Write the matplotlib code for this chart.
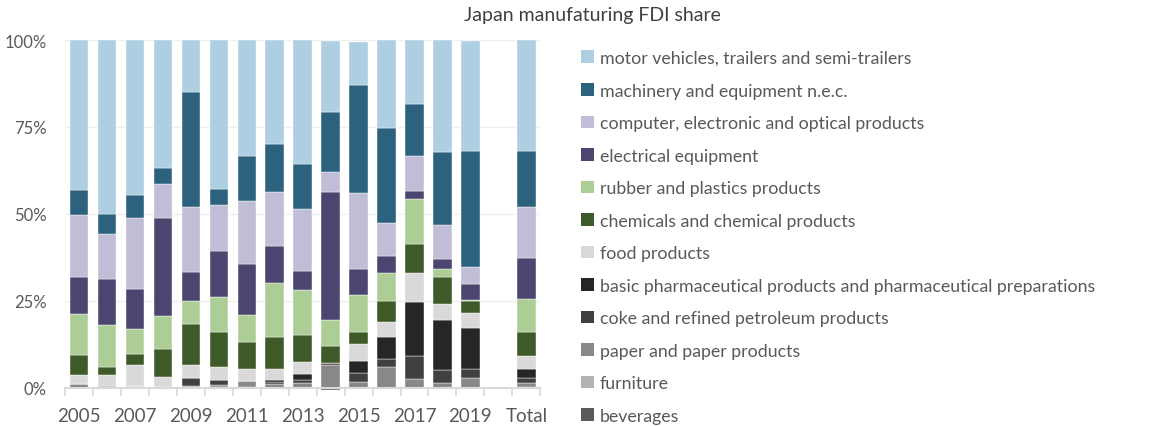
import matplotlib
matplotlib.use("Agg")
import matplotlib.pyplot as plt
from matplotlib.patches import Patch
import numpy as np

plt.rcParams['font.family'] = ['Lato', 'DejaVu Sans']

categories = ["2005", "2006", "2007", "2008", "2009", "2010", "2011", "2012", "2013",
              "2014", "2015", "2016", "2017", "2018", "2019", "", "Total"]
tick_labels = ["2005", "", "2007", "", "2009", "", "2011", "", "2013",
               "", "2015", "", "2017", "", "2019", "", "Total"]

# shares in %, bottom to top (blank slot before Total)
beverages   = [0.0, 0.0, 0.0, 0.0, 0.3, 0.3, 0.4, 0.0, 0.0, -0.5, -0.4, 0.0, 0.0, 0.0, 0.0, 0, 0.3]
furniture   = [0.0, 0.0, 0.5, 0.4, 0.0, 0.0, 0.0, 0.0, 0.0, 0.0, 0.0, 0.0, 0.0, 0.0, 0.0, 0, 0.0]
paper       = [1.1, 0.7, 0.0, 0.0, 0.3, 0.5, 1.7, 1.1, 1.3, 6.7, 1.7, 6.0, 2.6, 1.3, 2.8, 0, 1.1]
coke        = [0.0, 0.0, 0.0, 0.0, 2.2, 1.5, 0.0, 0.5, 1.0, 0.4, 2.6, 2.2, 6.5, 4.0, 2.6, 0, 1.4]
pharma      = [0.0, 0.0, 0.0, 0.0, 0.0, 0.0, 0.0, 0.7, 1.6, 0.0, 3.4, 6.4, 15.7, 14.2, 11.8, 0, 2.6]
food        = [2.7, 3.0, 6.2, 2.7, 3.7, 3.6, 3.5, 3.1, 3.5, 0.0, 4.9, 4.3, 8.2, 4.6, 4.4, 0, 3.9]
chemicals   = [5.8, 2.2, 3.1, 8.0, 11.9, 10.3, 7.5, 9.2, 7.8, 5.0, 3.4, 6.0, 8.4, 7.7, 3.4, 0, 6.9]
rubber      = [11.6, 12.2, 7.1, 9.6, 6.7, 9.9, 8.0, 15.7, 12.9, 7.5, 10.8, 8.1, 12.8, 2.3, 0.2, 0, 9.3]
electrical  = [10.8, 13.2, 11.5, 28.2, 8.2, 13.2, 14.6, 10.5, 5.5, 36.7, 7.4, 5.0, 2.3, 2.9, 4.7, 0, 11.8]
computer    = [17.8, 13.0, 20.4, 9.7, 18.7, 13.2, 17.9, 15.4, 17.7, 5.8, 21.7, 9.3, 10.2, 9.8, 4.8, 0, 14.6]
machinery   = [7.1, 5.7, 6.8, 4.7, 33.1, 4.7, 13.2, 13.9, 13.0, 17.2, 31.2, 27.4, 15.0, 20.9, 33.5, 0, 16.2]
motor       = [43.1, 50.0, 44.4, 36.7, 14.9, 42.8, 33.2, 29.9, 35.7, 20.3, 12.3, 25.3, 18.3, 32.3, 31.4, 0, 31.9]

series = [
    ("beverages", beverages, "#5a5a5a"),
    ("furniture", furniture, "#b3b3b3"),
    ("paper and paper products", paper, "#888888"),
    ("coke and refined petroleum products", coke, "#404040"),
    ("basic pharmaceutical products and pharmaceutical preparations", pharma, "#262626"),
    ("food products", food, "#d9d9d9"),
    ("chemicals and chemical products", chemicals, "#3d5a28"),
    ("rubber and plastics products", rubber, "#acce96"),
    ("electrical equipment", electrical, "#4a466f"),
    ("computer, electronic and optical products", computer, "#c0bdd6"),
    ("machinery and equipment n.e.c.", machinery, "#2c627d"),
    ("motor vehicles, trailers and semi-trailers", motor, "#aecfe1"),
]

W, H = 1159, 427
fig = plt.figure(figsize=(W / 100, H / 100), dpi=100)
ax = fig.add_axes([65 / W, 38 / H, 475.3 / W, 348 / H])

x = np.arange(len(categories))
pos_bottom = np.zeros(len(categories))
neg_bottom = np.zeros(len(categories))
handles = []
for name, vals, color in series:
    v = np.array(vals, dtype=float)
    bottoms = np.where(v >= 0, pos_bottom, neg_bottom)
    ax.bar(x, v, bottom=bottoms, width=0.66, color=color, edgecolor="#ffffff",
           linewidth=0.3, clip_on=False, zorder=3)
    pos_bottom += np.where(v >= 0, v, 0)
    neg_bottom += np.where(v < 0, v, 0)
    handles.append(Patch(facecolor=color, edgecolor="none", label=name))

ax.set_xlim(-0.5, len(categories) - 0.5)
ax.set_ylim(0, 100)
ax.set_yticks([0, 25, 50, 75, 100])
ax.set_yticklabels(["0%", "25%", "50%", "75%", "100%"])
ax.set_xticks(x)
ax.set_xticklabels(tick_labels)
ax.set_xticks(np.arange(-0.5, len(categories), 1.0), minor=True)
ax.tick_params(axis="x", which="major", length=0, pad=14, labelsize=13.5, colors="#595959")
ax.tick_params(axis="x", which="minor", length=6, width=1.2, color="#d9d9d9")
ax.tick_params(axis="y", length=0, pad=13, labelsize=12, colors="#595959")
ax.yaxis.grid(True, color="#efefef", linewidth=1, zorder=0)
ax.set_axisbelow(True)
for s in ["top", "right", "left"]:
    ax.spines[s].set_visible(False)
ax.spines["bottom"].set_color("#d9d9d9")
ax.spines["bottom"].set_linewidth(1.5)
ax.spines["bottom"].set_zorder(4)

fig.text(592 / W, 1 - 16 / H, "Japan manufaturing FDI share", ha="center", va="center",
         fontsize=14, color="#404040")

leg = fig.legend(handles=handles[::-1], loc="upper left",
                 bbox_to_anchor=(581 / W, 1 - 51 / H), frameon=False,
                 fontsize=12.8, labelcolor="#595959", handlelength=0.72, handleheight=0.72,
                 handletextpad=0.35, labelspacing=0.93, borderaxespad=0, borderpad=0)

fig.savefig("out.png", dpi=100)
